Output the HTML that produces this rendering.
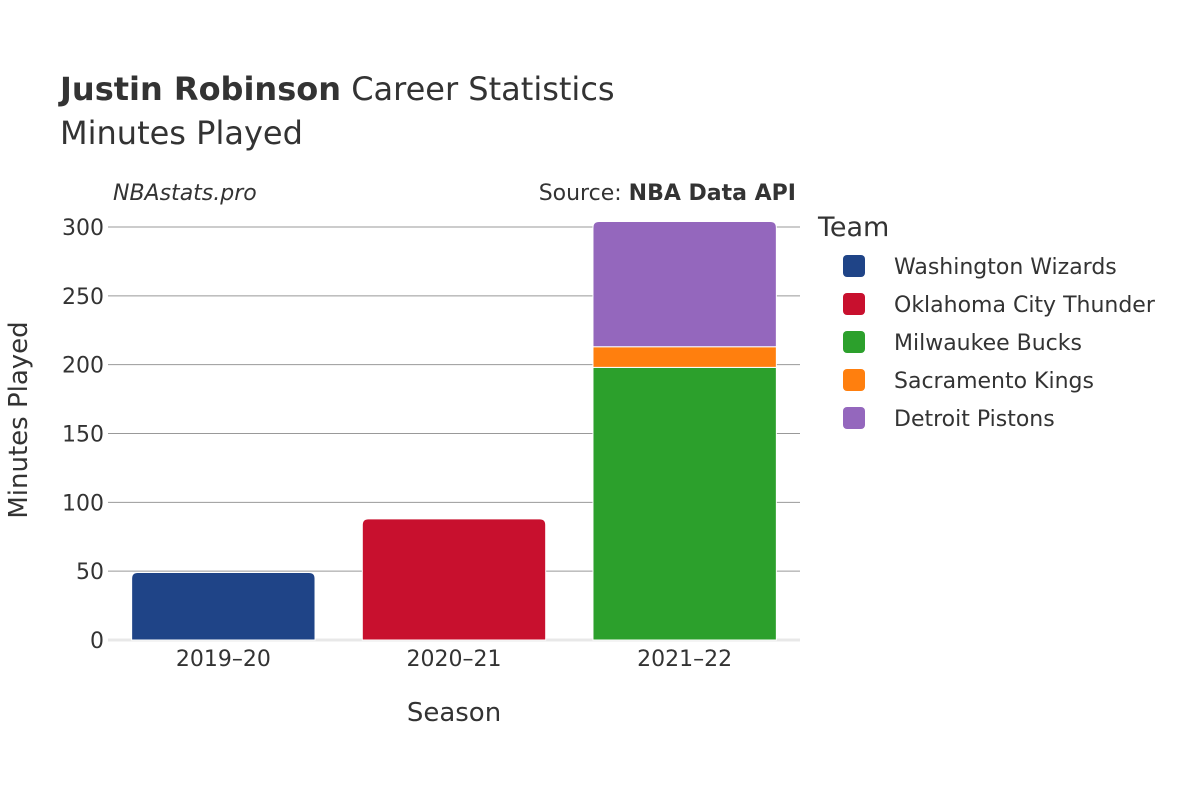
<!DOCTYPE html>
<html><head><meta charset="utf-8"><style>
body{margin:0;background:#fff;font-family:"DejaVu Sans","Liberation Sans",sans-serif;}
svg text{font-family:"DejaVu Sans","Liberation Sans",sans-serif;fill:#333;}
</style></head><body>
<svg id="chart" width="1200" height="800">
<text x="60" y="100" font-size="32"><tspan font-weight="bold">Justin Robinson</tspan> Career Statistics</text>
<text x="60" y="144" font-size="32">Minutes Played</text>
<text x="113" y="200" font-size="22" font-style="italic">NBAstats.pro</text>
<text x="796" y="200" font-size="22" text-anchor="end">Source: <tspan font-weight="bold">NBA Data API</tspan></text>
<g id="grid"></g>
<g id="bars"></g>
<g id="xticks"></g>
<text x="454" y="721" font-size="26" text-anchor="middle">Season</text>
<text transform="translate(27,420) rotate(-90)" font-size="26" text-anchor="middle">Minutes Played</text>
<text x="818" y="236" font-size="27">Team</text>
<g id="legend"></g>
</svg>
<script>
const seasons = ["2019–20","2020–21","2021–22"];
const teams = ["Washington Wizards","Oklahoma City Thunder","Milwaukee Bucks","Sacramento Kings","Detroit Pistons"];
const colors = ["#1f4487","#c8102e","#2ca02c","#ff7f0e","#9467bd"];
const wizards = [49,0,0];
const thunder = [0,88,0];
const bucks = [0,0,198];
const kings = [0,0,15];
const pistons = [0,0,91];
const yTicks = [0,50,100,150,200,250,300];
const series = [wizards,thunder,bucks,kings,pistons];
const NS="http://www.w3.org/2000/svg";
const x0=108,x1=800,yBase=640,yTop=227,yMax=300;
const y=v=>yBase-(v/yMax)*(yBase-yTop);
const band=(x1-x0)/seasons.length;
const bw=band*0.795;
const xc=i=>x0+band*(i+0.5);
function mk(tag,attrs,parent){const e=document.createElementNS(NS,tag);for(const k in attrs)e.setAttribute(k,attrs[k]);parent.appendChild(e);return e;}
const grid=document.getElementById('grid');
yTicks.forEach(t=>{
  const l=mk('line',{x1:x0,x2:x1,y1:y(t),y2:y(t),stroke:t===0?'#e8e8e8':'#999','stroke-width':t===0?3:1},grid);
  
  
  const tx=mk('text',{x:x0-4,y:y(t)+8,'font-size':22,'text-anchor':'end'},grid);
  tx.textContent=t;
  
  
});
const bars=document.getElementById('bars');
seasons.forEach((s,i)=>{
  let acc=0;
  const segs=[];
  series.forEach((sr,j)=>{if(sr[i]>0)segs.push([j,acc,acc+sr[i]]);acc+=sr[i];});
  segs.forEach((sg,k)=>{
    const [j,a,b]=sg;const top=k===segs.length-1;
    const X=xc(i)-bw/2,Y1=y(b),Y0=y(a),r=top?6:0;
    const d=`M${X},${Y0} L${X},${Y1+r} Q${X},${Y1} ${X+r},${Y1} L${X+bw-r},${Y1} Q${X+bw},${Y1} ${X+bw},${Y1+r} L${X+bw},${Y0} Z`;
    const p=mk('path',{d,fill:colors[j],stroke:'#fff','stroke-width':1},bars);
    
    
  });
  const tx=mk('text',{x:xc(i),y:666,'font-size':22,'text-anchor':'middle'},document.getElementById('xticks'));
  tx.textContent=s;
  
  
});
const lg=document.getElementById('legend');
teams.forEach((t,j)=>{
  const yy=266+j*38;
  const g=mk('g',{},lg);
  
  
  mk('rect',{x:843,y:yy-11,width:22,height:22,rx:4,fill:colors[j]},g);
  const tx=mk('text',{x:894,y:yy+8,'font-size':22},g);
  tx.textContent=t;
});
</script>
</body></html>
